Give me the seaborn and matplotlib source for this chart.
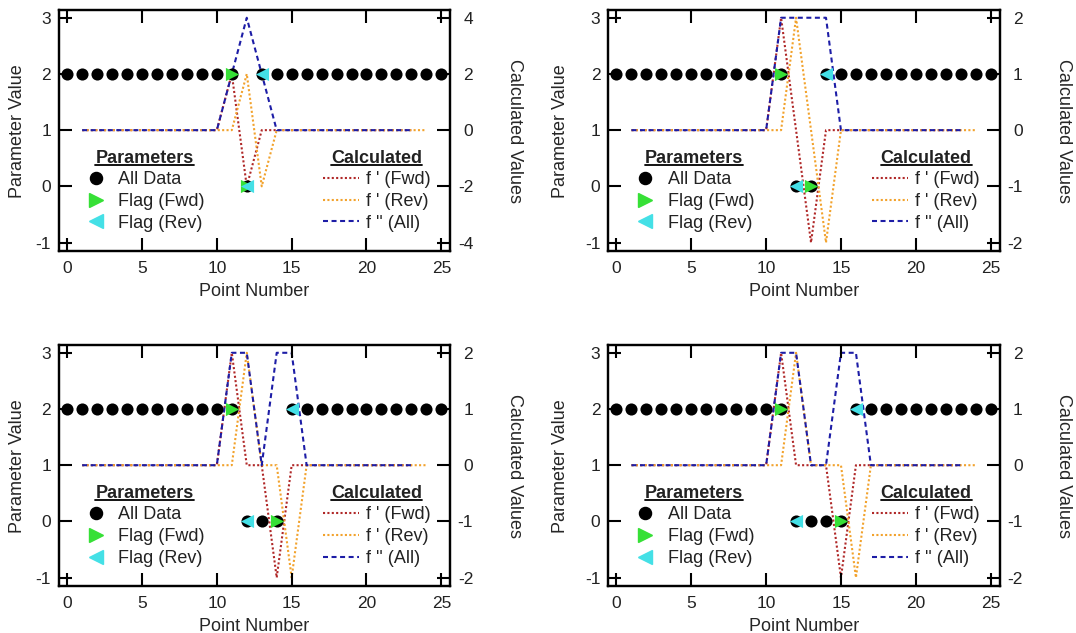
import matplotlib
matplotlib.use("Agg")
import matplotlib.pyplot as plt
from matplotlib.lines import Line2D
import seaborn as sns

# ---------------- data ----------------
point_numbers = list(range(26))
calc_x_fwd = list(range(1, 24))   # f'(Fwd) and f''(All) points 1..23
calc_x_rev = list(range(1, 25))   # f'(Rev) points 1..24

param_p1 = [2, 2, 2, 2, 2, 2, 2, 2, 2, 2, 2, 2, 0, 2, 2, 2, 2, 2, 2, 2, 2, 2, 2, 2, 2, 2]
param_p2 = [2, 2, 2, 2, 2, 2, 2, 2, 2, 2, 2, 2, 0, 0, 2, 2, 2, 2, 2, 2, 2, 2, 2, 2, 2, 2]
param_p3 = [2, 2, 2, 2, 2, 2, 2, 2, 2, 2, 2, 2, 0, 0, 0, 2, 2, 2, 2, 2, 2, 2, 2, 2, 2, 2]
param_p4 = [2, 2, 2, 2, 2, 2, 2, 2, 2, 2, 2, 2, 0, 0, 0, 0, 2, 2, 2, 2, 2, 2, 2, 2, 2, 2]

flag_fwd_x_p1, flag_fwd_y_p1 = [11, 12], [2, 0]
flag_rev_x_p1, flag_rev_y_p1 = [12, 13], [0, 2]
flag_fwd_x_p2, flag_fwd_y_p2 = [11, 13], [2, 0]
flag_rev_x_p2, flag_rev_y_p2 = [12, 14], [0, 2]
flag_fwd_x_p3, flag_fwd_y_p3 = [11, 14], [2, 0]
flag_rev_x_p3, flag_rev_y_p3 = [12, 15], [0, 2]
flag_fwd_x_p4, flag_fwd_y_p4 = [11, 15], [2, 0]
flag_rev_x_p4, flag_rev_y_p4 = [12, 16], [0, 2]

fwd_p1 = [0, 0, 0, 0, 0, 0, 0, 0, 0, 0, 2, -2, 0, 0, 0, 0, 0, 0, 0, 0, 0, 0, 0]
rev_p1 = [0, 0, 0, 0, 0, 0, 0, 0, 0, 0, 0, 2, -2, 0, 0, 0, 0, 0, 0, 0, 0, 0, 0, 0]
all_p1 = [0, 0, 0, 0, 0, 0, 0, 0, 0, 0, 2, 4, 2, 0, 0, 0, 0, 0, 0, 0, 0, 0, 0]

fwd_p2 = [0, 0, 0, 0, 0, 0, 0, 0, 0, 0, 2, 0, -2, 0, 0, 0, 0, 0, 0, 0, 0, 0, 0]
rev_p2 = [0, 0, 0, 0, 0, 0, 0, 0, 0, 0, 0, 2, 0, -2, 0, 0, 0, 0, 0, 0, 0, 0, 0, 0]
all_p2 = [0, 0, 0, 0, 0, 0, 0, 0, 0, 0, 2, 2, 2, 2, 0, 0, 0, 0, 0, 0, 0, 0, 0]

fwd_p3 = [0, 0, 0, 0, 0, 0, 0, 0, 0, 0, 2, 0, 0, -2, 0, 0, 0, 0, 0, 0, 0, 0, 0]
rev_p3 = [0, 0, 0, 0, 0, 0, 0, 0, 0, 0, 0, 2, 0, 0, -2, 0, 0, 0, 0, 0, 0, 0, 0, 0]
all_p3 = [0, 0, 0, 0, 0, 0, 0, 0, 0, 0, 2, 2, 0, 2, 2, 0, 0, 0, 0, 0, 0, 0, 0]

fwd_p4 = [0, 0, 0, 0, 0, 0, 0, 0, 0, 0, 2, 0, 0, 0, -2, 0, 0, 0, 0, 0, 0, 0, 0]
rev_p4 = [0, 0, 0, 0, 0, 0, 0, 0, 0, 0, 0, 2, 0, 0, 0, -2, 0, 0, 0, 0, 0, 0, 0, 0]
all_p4 = [0, 0, 0, 0, 0, 0, 0, 0, 0, 0, 2, 2, 0, 0, 2, 2, 0, 0, 0, 0, 0, 0, 0]

left_ticks = [-1, 0, 1, 2, 3]
x_ticks = [0, 5, 10, 15, 20, 25]
right_ticks_p1 = [-4, -2, 0, 2, 4]
right_ticks_other = [-2, -1, 0, 1, 2]

panels = [
    dict(param=param_p1, ffx=flag_fwd_x_p1, ffy=flag_fwd_y_p1, frx=flag_rev_x_p1, fry=flag_rev_y_p1,
         fwd=fwd_p1, rev=rev_p1, all=all_p1, rticks=right_ticks_p1, rscale=2.0),
    dict(param=param_p2, ffx=flag_fwd_x_p2, ffy=flag_fwd_y_p2, frx=flag_rev_x_p2, fry=flag_rev_y_p2,
         fwd=fwd_p2, rev=rev_p2, all=all_p2, rticks=right_ticks_other, rscale=1.0),
    dict(param=param_p3, ffx=flag_fwd_x_p3, ffy=flag_fwd_y_p3, frx=flag_rev_x_p3, fry=flag_rev_y_p3,
         fwd=fwd_p3, rev=rev_p3, all=all_p3, rticks=right_ticks_other, rscale=1.0),
    dict(param=param_p4, ffx=flag_fwd_x_p4, ffy=flag_fwd_y_p4, frx=flag_rev_x_p4, fry=flag_rev_y_p4,
         fwd=fwd_p4, rev=rev_p4, all=all_p4, rticks=right_ticks_other, rscale=1.0),
]

# ---------------- style ----------------
sns.set_theme(style="white")
plt.rcParams["font.family"] = ["Liberation Sans", "DejaVu Sans"]
plt.rcParams["axes.edgecolor"] = "black"
plt.rcParams["text.color"] = "#222222"

C_RED = "#b02828"
C_ORANGE = "#f2a22c"
C_BLUE = "#1d1da6"
C_GREEN = "#36e036"
C_CYAN = "#44e0e6"
DOT = (0, (1.0, 1.1))
DASH = (0, (2.4, 1.7))
FS = 13
TFS = 12.5

fig = plt.figure(figsize=(10.76, 6.33), dpi=100)

W, H = 0.364, 0.38
positions = [(0.0545, 0.6035), (0.565, 0.6035), (0.0545, 0.0742), (0.565, 0.0742)]
ylab_x = [-0.105, -0.12, -0.105, -0.12]
rlab_x = [1.163, 1.162, 1.163, 1.162]

YLIM = (-1.15, 3.13)
legends = []

for i, (p, pos) in enumerate(zip(panels, positions)):
    ax = fig.add_axes([pos[0], pos[1], W, H])
    ax2 = ax.twinx()
    ax.set_zorder(ax2.get_zorder() + 1)
    ax.patch.set_visible(False)
    ax2.patch.set_facecolor("white")

    # calculated lines (right axis)
    sns.lineplot(x=calc_x_fwd, y=p["fwd"], ax=ax2, color=C_RED, linestyle=DOT, lw=1.5, legend=False)
    sns.lineplot(x=calc_x_rev, y=p["rev"], ax=ax2, color=C_ORANGE, linestyle=DOT, lw=1.5, legend=False)
    sns.lineplot(x=calc_x_fwd, y=p["all"], ax=ax2, color=C_BLUE, linestyle=DASH, lw=1.5, legend=False)

    # parameter markers (left axis)
    sns.scatterplot(x=point_numbers, y=p["param"], ax=ax, color="black", marker="o", s=76,
                    linewidth=0, legend=False, zorder=3)
    sns.scatterplot(x=p["ffx"], y=p["ffy"], ax=ax, color=C_GREEN, marker=">", s=90,
                    linewidth=0, legend=False, zorder=4)
    sns.scatterplot(x=p["frx"], y=p["fry"], ax=ax, color=C_CYAN, marker="<", s=90,
                    linewidth=0, legend=False, zorder=4)

    ax.set_xlim(-0.57, 25.6)
    ax.set_ylim(*YLIM)
    s = p["rscale"]
    ax2.set_ylim(s * (YLIM[0] - 1), s * (YLIM[1] - 1))
    ax.set_xticks(x_ticks)
    ax.set_yticks(left_ticks)
    ax2.set_yticks(p["rticks"])
    ax.set_xticklabels([str(v) for v in x_ticks])
    ax.set_yticklabels([str(v) for v in left_ticks])
    ax2.set_yticklabels([str(v) for v in p["rticks"]])

    for a in (ax, ax2):
        for sp in a.spines.values():
            sp.set_linewidth(1.6)
            sp.set_color("black")
    ax.tick_params(axis="x", which="major", direction="in", length=9.5, width=1.5,
                   top=True, bottom=True, labelsize=TFS, pad=7, colors="black", labelcolor="#222222")
    ax.tick_params(axis="y", which="major", direction="in", length=9.5, width=1.5,
                   left=True, right=False, labelsize=TFS, pad=5.5, colors="black", labelcolor="#222222")
    ax2.tick_params(axis="y", which="major", direction="in", length=9.5, width=1.5,
                    right=True, left=False, labelsize=TFS, pad=16.5, colors="black", labelcolor="#222222")
    for t in ax2.yaxis.get_major_ticks():
        t.label2.set_horizontalalignment("right")
    ax2.tick_params(axis="x", which="both", bottom=False, top=False, labelbottom=False)

    ax.set_xlabel("Point Number", fontsize=FS, va="center")
    ax.xaxis.set_label_coords(0.5, -0.167)
    ax.set_ylabel("Parameter Value", fontsize=FS, va="center")
    ax.yaxis.set_label_coords(ylab_x[i], 0.5)
    ax2.set_ylabel("Calculated Values", fontsize=FS, rotation=270, va="center")
    ax2.yaxis.set_label_coords(rlab_x[i], 0.5)

    # legends
    h_par = [
        Line2D([], [], marker="o", color="black", linestyle="none", markersize=8.7),
        Line2D([], [], marker=">", color=C_GREEN, linestyle="none", markersize=9.5),
        Line2D([], [], marker="<", color=C_CYAN, linestyle="none", markersize=9.5),
    ]
    leg1 = ax.legend(h_par, ["All Data", "Flag (Fwd)", "Flag (Rev)"], title="Parameters",
                     loc="upper left", bbox_to_anchor=(0.065, 0.421), frameon=False,
                     fontsize=FS, title_fontproperties={"weight": "bold", "size": FS},
                     handlelength=1.3, handletextpad=0.6, labelspacing=0.26,
                     borderpad=0, borderaxespad=0)
    ax.add_artist(leg1)
    h_calc = [
        Line2D([], [], color=C_RED, linestyle=DOT, lw=1.5),
        Line2D([], [], color=C_ORANGE, linestyle=DOT, lw=1.5),
        Line2D([], [], color=C_BLUE, linestyle=DASH, lw=1.5),
    ]
    leg2 = ax.legend(h_calc, ["f ' (Fwd)", "f ' (Rev)", "f '' (All)"], title="Calculated",
                     loc="upper right", bbox_to_anchor=(0.95, 0.421), frameon=False,
                     fontsize=FS, title_fontproperties={"weight": "bold", "size": FS},
                     handlelength=2.0, handletextpad=0.4, labelspacing=0.26,
                     borderpad=0, borderaxespad=0)
    legends.extend([leg1, leg2])

# underline the legend titles
fig.canvas.draw()
renderer = fig.canvas.get_renderer()
inv = fig.transFigure.inverted()
for leg in legends:
    bb = leg.get_title().get_window_extent(renderer)
    (x0, y0), (x1, _) = inv.transform([(bb.x0, bb.y0 + 1.5), (bb.x1, bb.y0 + 1.5)])
    fig.add_artist(Line2D([x0, x1], [y0, y0], transform=fig.transFigure, color="black", lw=1.3))

fig.savefig("out.png", dpi=100)
